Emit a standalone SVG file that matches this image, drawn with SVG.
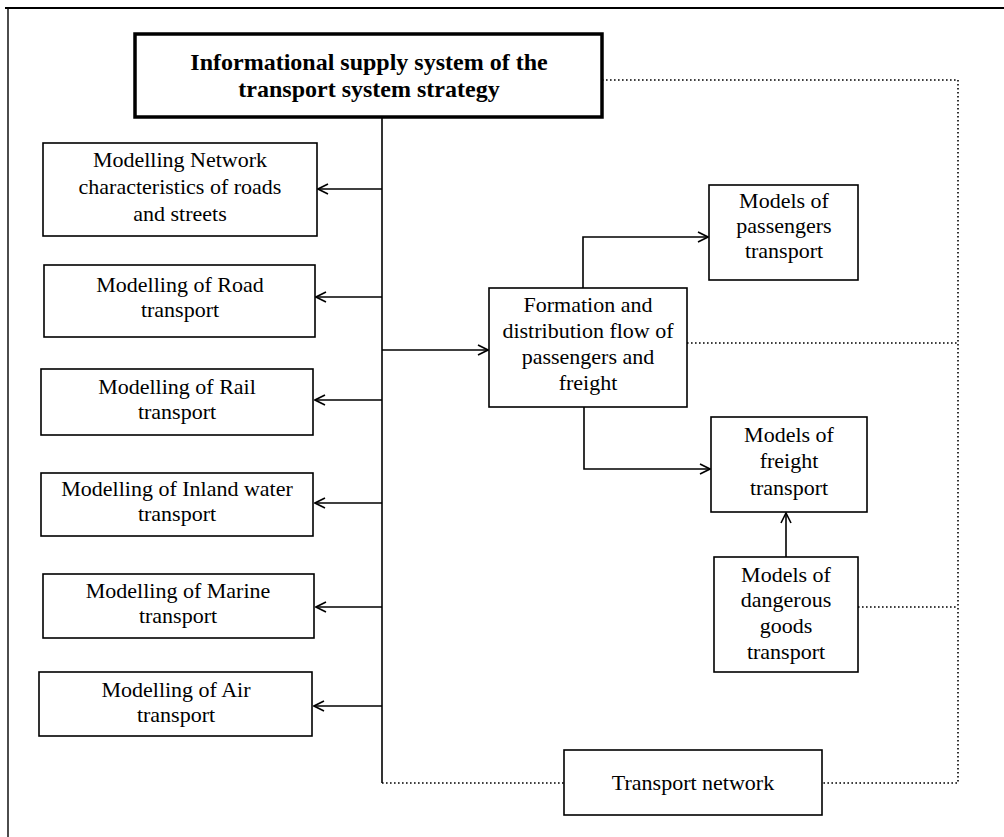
<svg xmlns="http://www.w3.org/2000/svg" width="1004" height="837" viewBox="0 0 1004 837">
<defs>
<marker id="arr" viewBox="0 0 12 12" refX="11" refY="6" markerWidth="12" markerHeight="12" markerUnits="userSpaceOnUse" orient="auto">
<path d="M1,1 L11,6 L1,11" fill="none" stroke="#000" stroke-width="1.6"/>
</marker>
<style>
.box{fill:#fff;stroke:#000;stroke-width:1.6}
.tbox{fill:#fff;stroke:#000;stroke-width:3.5}
.t{font-family:"Liberation Serif",serif;font-size:22px;fill:#000;text-anchor:middle}
.tt{font-family:"Liberation Serif",serif;font-size:24px;font-weight:bold;fill:#000;text-anchor:middle}
.ln{fill:none;stroke:#000;stroke-width:1.6}
.dot{fill:none;stroke:#000;stroke-width:1.6;stroke-dasharray:1.6 2.4}
</style>
</defs>
<rect width="1004" height="837" fill="#fff"/>
<g id="frame">
<line x1="5" y1="8" x2="1004" y2="8" stroke="#000" stroke-width="2"/>
<line x1="8" y1="8" x2="8" y2="837" stroke="#000" stroke-width="1.4"/>
</g>
<g id="connectors">
<polyline class="ln" points="382,117 382,783"/>
<line class="ln" x1="382" y1="189" x2="318" y2="189" marker-end="url(#arr)"/>
<line class="ln" x1="382" y1="297" x2="316" y2="297" marker-end="url(#arr)"/>
<line class="ln" x1="382" y1="400" x2="315" y2="400" marker-end="url(#arr)"/>
<line class="ln" x1="382" y1="503" x2="315" y2="503" marker-end="url(#arr)"/>
<line class="ln" x1="382" y1="607" x2="316" y2="607" marker-end="url(#arr)"/>
<line class="ln" x1="382" y1="706" x2="314" y2="706" marker-end="url(#arr)"/>
<line class="ln" x1="382" y1="350" x2="488" y2="350" marker-end="url(#arr)"/>
<polyline class="ln" points="583,288 583,237 708,237" marker-end="url(#arr)"/>
<polyline class="ln" points="584,407 584,469 710,469" marker-end="url(#arr)"/>
<line class="ln" x1="786" y1="557" x2="786" y2="513" marker-end="url(#arr)"/>
<polyline class="dot" points="602,80 958,80 958,783 822,783"/>
<line class="dot" x1="687" y1="343" x2="958" y2="343"/>
<line class="dot" x1="858" y1="607" x2="958" y2="607"/>
<line class="dot" x1="382" y1="783" x2="564" y2="783"/>
</g>
<g id="title">
<rect class="tbox" x="135" y="34" width="467" height="83"/>
<text class="tt" x="369" y="70">Informational supply system of the</text>
<text class="tt" x="369" y="97">transport system strategy</text>
</g>
<g id="network">
<rect class="box" x="43" y="143" width="274" height="93"/>
<text class="t" x="180" y="167">Modelling Network</text>
<text class="t" x="180" y="194">characteristics of roads</text>
<text class="t" x="180" y="221">and streets</text>
</g>
<g id="road">
<rect class="box" x="44" y="265" width="271" height="72"/>
<text class="t" x="180" y="292">Modelling of Road</text>
<text class="t" x="180" y="317">transport</text>
</g>
<g id="rail">
<rect class="box" x="41" y="369" width="272" height="66"/>
<text class="t" x="177" y="394">Modelling of Rail</text>
<text class="t" x="177" y="419">transport</text>
</g>
<g id="inland">
<rect class="box" x="41" y="473" width="272" height="63"/>
<text class="t" x="177" y="496">Modelling of Inland water</text>
<text class="t" x="177" y="521">transport</text>
</g>
<g id="marine">
<rect class="box" x="43" y="574" width="271" height="64"/>
<text class="t" x="178" y="598">Modelling of Marine</text>
<text class="t" x="178" y="623">transport</text>
</g>
<g id="air">
<rect class="box" x="39" y="672" width="273" height="64"/>
<text class="t" x="176" y="697">Modelling of Air</text>
<text class="t" x="176" y="722">transport</text>
</g>
<g id="formation">
<rect class="box" x="489" y="288" width="198" height="119"/>
<text class="t" x="588" y="312">Formation and</text>
<text class="t" x="588" y="338">distribution flow of</text>
<text class="t" x="588" y="364">passengers and</text>
<text class="t" x="588" y="390">freight</text>
</g>
<g id="passengers">
<rect class="box" x="709" y="185" width="149" height="95"/>
<text class="t" x="784" y="208">Models of</text>
<text class="t" x="784" y="233">passengers</text>
<text class="t" x="784" y="258">transport</text>
</g>
<g id="freight">
<rect class="box" x="711" y="417" width="156" height="95"/>
<text class="t" x="789" y="442">Models of</text>
<text class="t" x="789" y="468">freight</text>
<text class="t" x="789" y="495">transport</text>
</g>
<g id="dangerous">
<rect class="box" x="714" y="557" width="144" height="115"/>
<text class="t" x="786" y="582">Models of</text>
<text class="t" x="786" y="607">dangerous</text>
<text class="t" x="786" y="633">goods</text>
<text class="t" x="786" y="659">transport</text>
</g>
<g id="tnet">
<rect class="box" x="564" y="750" width="258" height="65"/>
<text class="t" x="693" y="790">Transport network</text>
</g>
</svg>
